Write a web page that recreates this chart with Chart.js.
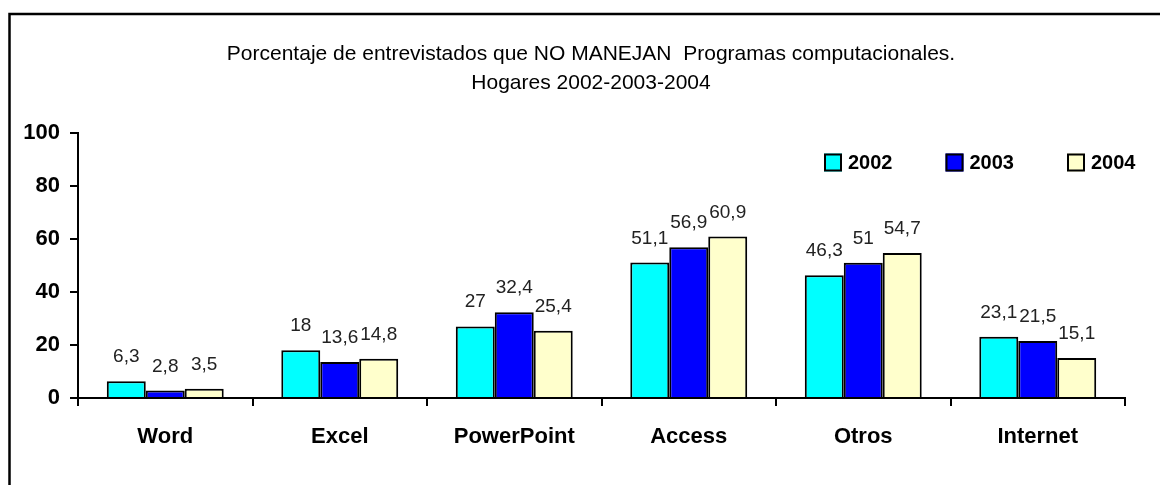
<!DOCTYPE html>
<html>
<head>
<meta charset="utf-8">
<title>Programas computacionales</title>
<script src="https://cdn.jsdelivr.net/npm/chart.js@4.4.1/dist/chart.umd.min.js"></script>
<style>
    html, body { margin: 0; padding: 0; background: #fff; }
    canvas { display: block; }
</style>
</head>
<body>
<canvas id="chart" width="1160" height="485"></canvas>
<script>
const categories = ['Word', 'Excel', 'PowerPoint', 'Access', 'Otros', 'Internet'];
const years = ['2002', '2003', '2004'];
const values2002 = [6.3, 18, 27, 51.1, 46.3, 23.1];
const values2003 = [2.8, 13.6, 32.4, 56.9, 51, 21.5];
const values2004 = [3.5, 14.8, 25.4, 60.9, 54.7, 15.1];
const yTicks = [0, 20, 40, 60, 80, 100];

const colors = ['#00FFFF', '#0000FF', '#FFFFCC'];
const FONT = "'Liberation Sans', Arial, sans-serif";

// outer frame (only left/top edges fall inside the picture)
const framePlugin = {
    id: 'frame',
    beforeDraw(chart) {
        const ctx = chart.ctx;
        ctx.save();
        ctx.fillStyle = '#fff';
        ctx.fillRect(0, 0, chart.width, chart.height);
        ctx.strokeStyle = '#000';
        ctx.lineWidth = 2.5;
        ctx.strokeRect(9.5, 14, chart.width + 40, chart.height + 40);
        ctx.restore();
    }
};

// value labels above every bar
const valueLabels = {
    id: 'valueLabels',
    afterDatasetsDraw(chart) {
        const ctx = chart.ctx;
        ctx.save();
        ctx.font = "19px " + FONT;
        ctx.fillStyle = '#222';
        ctx.textAlign = 'center';
        ctx.textBaseline = 'alphabetic';
        chart.data.datasets.forEach((ds, i) => {
            chart.getDatasetMeta(i).data.forEach((bar, j) => {
                const txt = String(ds.data[j]).replace('.', ',');
                ctx.fillText(txt, bar.x, bar.y - 19);
            });
        });
        ctx.restore();
    }
};

// legend drawn inside the plot, top right
const innerLegend = {
    id: 'innerLegend',
    afterDraw(chart) {
        const ctx = chart.ctx;
        const area = chart.chartArea;
        const step = 121.5;
        const cy = 162.5;
        ctx.save();
        ctx.font = "bold 20px " + FONT;
        ctx.textAlign = 'left';
        ctx.textBaseline = 'middle';
        chart.data.datasets.forEach((ds, i) => {
            const bx = area.right - 58 - (chart.data.datasets.length - 1 - i) * step;
            ctx.fillStyle = ds.backgroundColor;
            ctx.fillRect(bx, cy - 9, 18, 18);
            ctx.strokeStyle = '#000';
            ctx.lineWidth = 2;
            ctx.strokeRect(bx + 1, cy - 8, 16, 16);
            ctx.fillStyle = '#000';
            ctx.fillText(ds.label, bx + 24, cy + 1);
        });
        ctx.restore();
    }
};

new Chart(document.getElementById('chart'), {
    type: 'bar',
    data: {
        labels: categories,
        datasets: [
            { label: years[0], data: values2002, backgroundColor: colors[0] },
            { label: years[1], data: values2003, backgroundColor: colors[1] },
            { label: years[2], data: values2004, backgroundColor: colors[2] }
        ].map(ds => Object.assign(ds, {
            borderColor: '#000',
            borderWidth: 2,
            barPercentage: 1,
            categoryPercentage: 0.67
        }))
    },
    options: {
        responsive: false,
        animation: false,
        devicePixelRatio: 1,
        layout: { padding: { left: 22, right: 0, top: 0, bottom: 0 } },
        plugins: {
            legend: { display: false },
            tooltip: { enabled: false },
            title: {
                display: true,
                text: ['Porcentaje de entrevistados que NO MANEJAN  Programas computacionales.',
                       'Hogares 2002-2003-2004'],
                color: '#000',
                font: { family: FONT, size: 21, weight: 'normal', lineHeight: 1.38 },
                padding: { top: 39.5, bottom: 35.5 }
            }
        },
        scales: {
            x: {
                border: { color: '#000', width: 2 },
                grid: { drawOnChartArea: false, drawTicks: true, tickLength: 8, color: '#000', lineWidth: 2 },
                ticks: { color: '#000', padding: 18, font: { family: FONT, size: 22, weight: 'bold' } },
                afterFit(scale) { scale.height = 87; }
            },
            y: {
                min: yTicks[0],
                max: yTicks[yTicks.length - 1],
                border: { color: '#000', width: 2 },
                grid: { drawOnChartArea: false, drawTicks: true, tickLength: 8, color: '#000', lineWidth: 2 },
                ticks: {
                    color: '#000',
                    padding: 10,
                    stepSize: yTicks[1] - yTicks[0],
                    font: { family: FONT, size: 22, weight: 'bold' }
                },
                afterFit(scale) { scale.width = 56; }
            },
            // empty right-hand axis, only reserves the margin right of the plot
            yRight: {
                position: 'right',
                display: true,
                border: { display: false },
                grid: { display: false },
                ticks: { display: false },
                afterFit(scale) { scale.width = 35; }
            }
        }
    },
    plugins: [framePlugin, valueLabels, innerLegend]
});
</script>
</body>
</html>
